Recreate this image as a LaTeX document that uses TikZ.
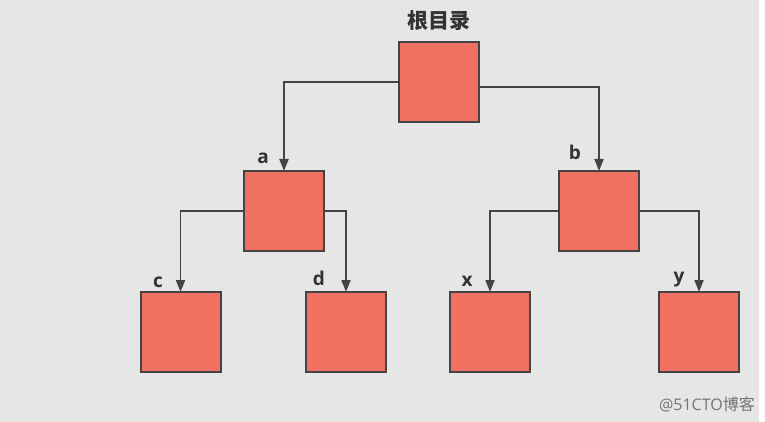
\documentclass[tikz,border=0pt]{standalone}
\usepackage{fontspec}
\setmainfont{Open Sans}
\newfontfamily\cjk{Noto Sans CJK SC}
\usetikzlibrary{arrows.meta}
\definecolor{bg}{HTML}{E6E6E6}
\definecolor{boxfill}{HTML}{F07062}
\definecolor{edge}{HTML}{444444}
\definecolor{txt}{HTML}{333333}
\tikzset{
  sq/.style={draw=edge, line width=2pt, fill=boxfill, minimum width=80pt, minimum height=80pt, inner sep=0pt, outer sep=0pt},
  conn/.style={draw=edge, line width=1.8pt, -{Triangle[length=12pt,width=9pt]}},
  lbl/.style={font=\fontsize{19}{22}\selectfont\bfseries, text=txt, anchor=base, inner sep=0pt}
}
\begin{document}
\begin{tikzpicture}[x=1pt,y=-1pt]
\fill[bg] (0,0) rectangle (759,422);
\fill[white!94!bg] (759,0) rectangle (765,422);
\useasboundingbox (0,0) rectangle (765,422);
\node[sq] (root) at (439,82) {};
\node[sq] (a) at (284,211) {};
\node[sq] (b) at (599,211) {};
\node[sq] (c) at (180.5,332) {};
\node[sq] (d) at (346,332) {};
\node[sq] (x) at (490,332) {};
\node[sq] (y) at (699,332) {};
\node[font=\cjk\fontsize{21}{24}\selectfont\bfseries, text=txt, inner sep=0pt] (rootlbl) at (439,21) {根目录};
\node[lbl] (la) at (263,164) {a};
\node[lbl] (lb) at (575,160) {b};
\node[lbl] (lc) at (158,287) {c};
\node[lbl] (ld) at (319,285) {d};
\node[lbl] (lx) at (467,286) {x};
\node[lbl] (ly) at (679,282) {y};
\draw[conn] (root.west) -| (a.north);
\draw[conn] ([yshift=-5pt]root.east) -| (b.north);
\draw[conn] (a.west) -| (c.north);
\draw[conn] (a.east) -| (d.north);
\draw[conn] (b.west) -| (x.north);
\draw[conn] (b.east) -| (y.north);
\node[font=\fontsize{16}{18}\selectfont, text=black!55, anchor=east, inner sep=0pt] (wm) at (755,404) {@51CTO{\cjk 博客}};
\end{tikzpicture}
\end{document}
